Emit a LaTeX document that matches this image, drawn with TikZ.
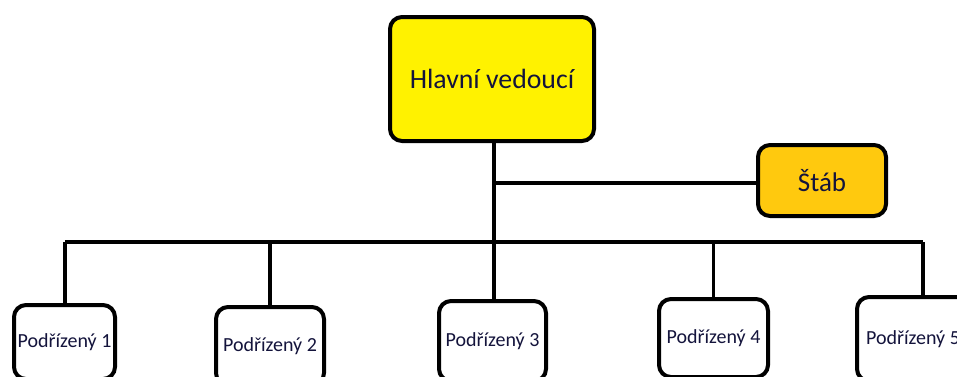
\documentclass[tikz,border=0pt]{standalone}
\usepackage{fontspec}
\setmainfont{Carlito}
\usetikzlibrary{positioning}
\definecolor{headyellow}{HTML}{FFF200}
\definecolor{staffgold}{HTML}{FFC90E}
\definecolor{textnavy}{HTML}{14143C}
\begin{document}
\begin{tikzpicture}[x=1pt, y=-1pt,% one unit = one pixel of the drawing
   box/.style = {draw, line width=4pt, rounded corners=12pt, inner sep=0pt,
                 text=textnavy},
  head/.style = {box, fill=headyellow, minimum width=204pt, minimum height=124pt,
                 font=\fontsize{27.8}{30}\selectfont},
 staff/.style = {box, fill=staffgold, minimum width=128pt, minimum height=71pt,
                 font=\fontsize{27}{30}\selectfont},
   sub/.style = {box, fill=white, font=\fontsize{20}{24}\selectfont},
  line/.style = {line width=3.5pt}
                        ]
\useasboundingbox (0,0) rectangle (957,376);
\clip (0,0) rectangle (957,376);
\fill[white] (0,0) rectangle (957,376);
% top of the tree
\node (boss)  [head]  at (492,79)    {Hlavní vedoucí};
\node (staff) [staff] at (822,180.5) {Štáb};
% subordinates, the boxes run past the lower edge
\node (p1) [sub, minimum width=101pt, minimum height=74pt] at (64.5,342) {Podřízený 1};
\node (p2) [sub, minimum width=108pt, minimum height=78pt] at (270,346)  {Podřízený 2};
\node (p3) [sub, minimum width=107pt, minimum height=80pt] at (492.5,341) {Podřízený 3};
\node (p4) [sub, minimum width=109pt, minimum height=78pt] at (713.5,338) {Podřízený 4};
\node (p5) [sub, minimum width=112pt, minimum height=84pt] at (913,339)  {Podřízený 5};
% bus line
\coordinate (busL) at (65,242);
\coordinate (busR) at (923,242);
\coordinate (fork) at (494,183);
\draw [line] (busL) -- (busR);
\draw [line] (boss.south -| fork) -- (fork |- busL);
\draw [line] (fork) -- (staff.west |- fork);
\draw [line] (busL) -- (busL |- p1.north);
\draw [line] (p2.north |- busL) -- (p2.north);
\draw [line] (fork |- busL) -- (fork |- p3.north);
\draw [line] (p4.north |- busL) -- (p4.north);
\draw [line] (busR) -- (busR |- p5.north);
\end{tikzpicture}
\end{document}
